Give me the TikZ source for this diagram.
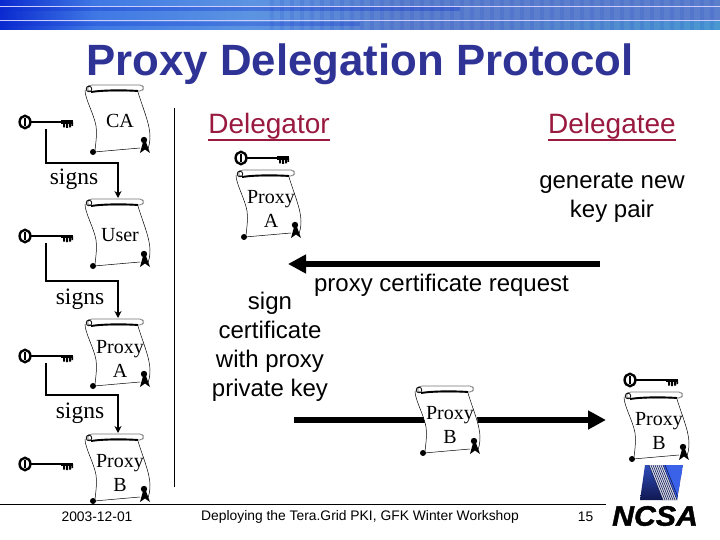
\documentclass[tikz,border=0pt]{standalone}
\usepackage{fontspec}
\setmainfont{Liberation Sans}
\newfontfamily\serifface{Liberation Serif}
\newfontfamily\logoface[BoldItalicFeatures={FakeBold=1.5,FakeStretch=1.08}]{Liberation Sans}
\usetikzlibrary{arrows.meta,calc}
\definecolor{titleblue}{HTML}{2F3396}
\definecolor{headred}{HTML}{99193F}
\definecolor{bandA}{HTML}{0A2AD0}
\definecolor{bandB}{HTML}{3F78E4}
\definecolor{bandC}{HTML}{5C94E2}
\definecolor{bandD}{HTML}{5B7FCC}
\definecolor{bandE}{HTML}{4A98D2}
\definecolor{logoA}{HTML}{101850}
\definecolor{logoB}{HTML}{3A62E8}
\tikzset{
  txt/.style={inner sep=0pt,align=center,font=\fontsize{24}{29}\selectfont},
  headtxt/.style={inner sep=0pt,text=headred,font=\fontsize{28}{32}\selectfont},
  foot/.style={inner sep=0pt,font=\fontsize{13.85}{16}\selectfont},
  scrolltxt/.style={inner sep=0pt,align=center,font=\serifface\fontsize{20}{24}\selectfont},
  biglabel/.style={inner sep=0pt,font=\serifface\fontsize{23.5}{26}\selectfont},
  link/.style={line width=1.5pt,-{Stealth[length=7pt,width=7pt]}},
  bigarrow/.style={line width=5.5pt,-{Triangle[length=18pt,width=18pt]}},
  pics/scrollart/.style={code={
    \fill[white] (2,2) -- (58,1) -- (66,52) -- (64,67) -- (10,69) -- (12,42) -- cycle;
    \draw[line width=.7pt,draw=black!55,rounded corners=2pt,fill=white] (6,1) -- (58,1) -- (60,4) -- (58,7) -- (12,7) -- (5,8) -- (3,3) -- cycle;
    \draw[line width=.8pt] (5,5) circle (2.8);
    \draw[line width=1.9pt] (7,8) .. controls (20,6) and (40,6) .. (54,7);
    \draw[line width=.5pt] (1,6) .. controls (1,15) and (10,30) .. (12,42) .. controls (13,50) and (12,58) .. (11,66);
    \draw[line width=.5pt] (54,8) .. controls (58,22) and (66,40) .. (66,52) .. controls (66,58) and (65,63) .. (63,67);
    \draw[line width=.5pt] (10,68) -- (56,64);
    \fill (9,68) circle (3);
    \fill (60,56) circle (3.2);
    \fill (56,69) -- (59,58) -- (62,58) -- (66,69) -- (61,65.5) -- cycle;
  }},
  pics/keyart/.style={code={
    \draw[line width=2.4pt,fill=white] (0,0) ellipse (5.4 and 6.2);
    \fill (-.8,-4) rectangle (1.2,4);
    \draw[line width=1.5pt] (5,0) -- (48,0);
    \fill (36,-1.5) rectangle (48,1.8);
    \fill (38,0) rectangle (40,5.5) (41,0) rectangle (43,6) (44,0) rectangle (46,5.5) (46.5,0) rectangle (48,4);
  }}
}
\newcommand{\scrollat}[5]{% name, x, y, text y offset, text
  \pic at (#2,#3) {scrollart};
  \node[inner sep=0pt,minimum width=68pt,minimum height=70pt,anchor=north west] (#1) at (#2,#3) {};
  \node[scrolltxt] (#1t) at ($(#2,#3)+(36,#4)$) {#5};
}
\begin{document}
\begin{tikzpicture}[x=1pt,y=-1pt]
\useasboundingbox (0,0) rectangle (720,540);
% header band
\shade[left color=bandA,right color=bandB] (0,0) rectangle (95,30);
\shade[left color=bandB,right color=bandC] (95,0) rectangle (250,30);
\shade[left color=bandC,right color=bandD] (250,0) rectangle (400,30);
\fill[bandD] (400,0) rectangle (720,30);
\shade[left color=bandD,right color=bandE] (490,21) rectangle (720,30);
\fill[bandA,opacity=.3] (0,7) rectangle (460,11);
\fill[bandA,opacity=.25] (0,22) rectangle (360,26);
\foreach \x in {270,280,...,710} {\fill[bandA,opacity=.1] (\x,0) rectangle +(4,30);}
\draw[blue!20!white,line width=.8pt] (0,6) -- (720,6);
\draw[blue!20!white,line width=.8pt] (0,20.5) -- (720,20.5);
% title
\node[inner sep=0pt,text=titleblue,font=\bfseries\fontsize{43.8}{48}\selectfont] (title) at (360,64) {Proxy Delegation Protocol};
% divider and footer rule
\coordinate (divT) at (174,108);
\coordinate (divB) at (174,487);
\draw[line width=.8pt] (divT) -- (divB);
\coordinate (ruleL) at (0,504);
\coordinate (ruleR) at (606,504);
\draw[line width=.8pt] (ruleL) -- (ruleR);
% left chain
\pic at (25,122) {keyart};
\scrollat{ca}{84}{84}{37}{CA}
\pic at (25,236) {keyart};
\scrollat{user}{84}{198}{37}{User}
\pic at (25,356) {keyart};
\scrollat{pa}{84}{318}{41}{Proxy\\A}
\pic at (25,464) {keyart};
\scrollat{pb}{84}{433}{40}{Proxy\\B}
\coordinate (k1) at (46,129); \coordinate (k2) at (46,243); \coordinate (k3) at (46,363);
\coordinate (a1) at (118,198); \coordinate (a2) at (118,318); \coordinate (a3) at (118,433);
\draw[link] (k1) |- (118,163) -- (a1);
\draw[link] (k2) |- (118,281) -- (a2);
\draw[link] (k3) |- (118,395) -- (a3);
\node[biglabel] (s1) at (74,179) {signs};
\node[biglabel] (s2) at (80,299) {signs};
\node[biglabel] (s3) at (80,413) {signs};
% columns
\node[headtxt] (dr) at (269,126) {Delegator};
\node[headtxt] (de) at (612,126) {Delegatee};
\draw[headred,line width=1.8pt] (dr.south west) ++(0,.5) -- ([yshift=-.5pt]dr.south east);
\draw[headred,line width=1.8pt] (de.south west) ++(0,.5) -- ([yshift=-.5pt]de.south east);
\pic at (241,158) {keyart};
\scrollat{mpa}{235}{169}{40}{Proxy\\A}
\node[txt] (gen) at (612,198) {generate new\\key pair};
\node[txt] (sign) at (270,346.5) {sign\\certificate\\with proxy\\private key};
\node[txt] (req) at (441.5,285) {proxy certificate request};
\coordinate (rqR) at (600,264);
\coordinate (rqL) at (288,264);
\draw[bigarrow] (rqR) -- (rqL);
\coordinate (snL) at (294,420);
\coordinate (snR) at (606,420);
\draw[bigarrow] (snL) -- (snR);
\scrollat{mpb}{414}{385}{40}{Proxy\\B}
\pic at (630,380) {keyart};
\scrollat{rpb}{623}{391}{40}{Proxy\\B}
% footer
\node[foot] (date) at (97,517) {2003-12-01};
\node[foot] (ft) at (360,517) {Deploying the Tera.Grid PKI, GFK Winter Workshop};
\node[foot] (num) at (585.5,517) {15};
% logo
\begin{scope}
\clip (645,465) -- (683,465) -- (677,500) -- (640,500) -- cycle;
\shade[bottom color=logoA,top color=logoB!70!logoA] (640,465) rectangle (685,500);
\fill[logoB] (663,465) -- (683,465) -- (677,500) -- cycle;
\fill[white,opacity=.85] (649,465) -- (663,465) -- (677,500) -- (663,500) -- cycle;
\foreach \i in {0,2,...,16} {\draw[logoA,line width=.6pt] (649+\i,465) -- (663+\i,500);}
\end{scope}
\node[inner sep=0pt,font=\logoface\bfseries\itshape\fontsize{28}{28}\selectfont] (logo) at (655,516) {NCSA};
\end{tikzpicture}
\end{document}
